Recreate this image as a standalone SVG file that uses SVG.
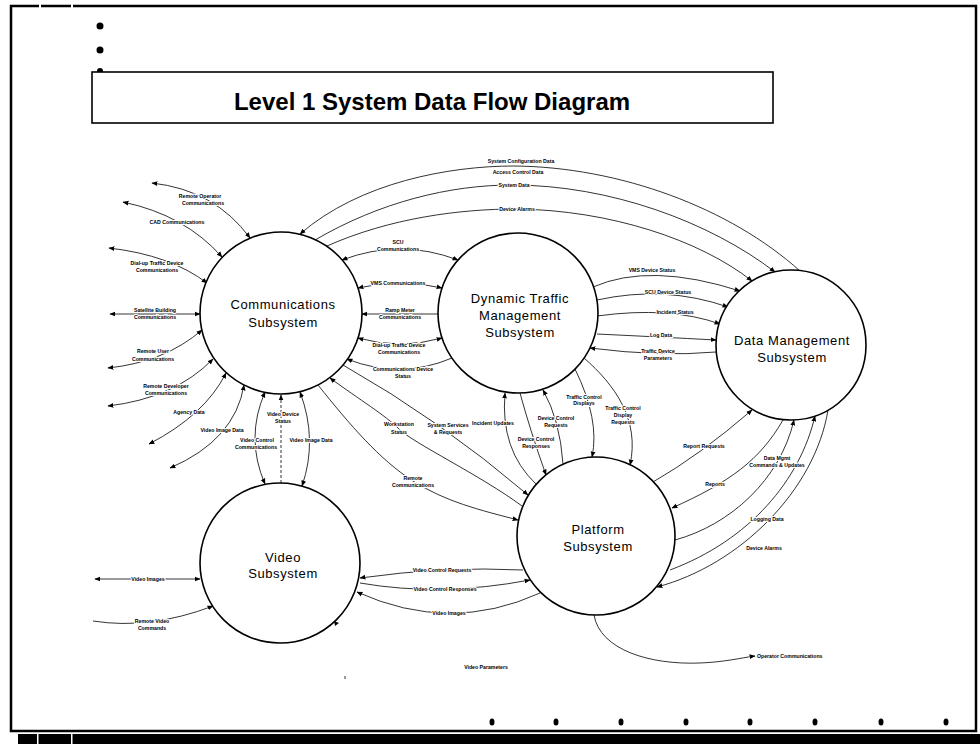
<svg xmlns="http://www.w3.org/2000/svg" width="980" height="744" viewBox="0 0 980 744">
<defs>
<marker id="ah" viewBox="0 0 10 10" refX="9" refY="5" markerWidth="6" markerHeight="6" markerUnits="userSpaceOnUse" orient="auto-start-reverse"><path d="M0,1 L10,5 L0,9 z" fill="#000"/></marker>
</defs>
<style>
.frame{fill:none;stroke:#000;stroke-width:2.5}
.node circle{fill:#fff;stroke:#000;stroke-width:1.6}
.nt{font-family:"Liberation Sans",Arial,sans-serif;font-size:13px;letter-spacing:0.6px;text-anchor:middle;fill:#000}
.c path{fill:none;stroke:#000;stroke-width:0.8}
.c .s{marker-start:url(#ah)}
.c .e{marker-end:url(#ah)}
.c .d{stroke-dasharray:3 2}
.lb{font-family:"Liberation Sans",Arial,sans-serif;font-size:5.2px;font-weight:bold;text-anchor:middle;fill:#000;stroke:#fff;stroke-width:2;paint-order:stroke}
.title{font-family:"Liberation Sans",Arial,sans-serif;font-size:24px;font-weight:bold;text-anchor:middle;fill:#000}
</style>
<rect width="980" height="744" fill="#fff"/>
<!-- page frame -->
<rect class="frame" x="11" y="6" width="965" height="725"/>
<rect x="39" y="4" width="2" height="4" fill="#fff"/>
<rect x="71" y="4" width="2" height="4" fill="#fff"/>
<rect x="18" y="734" width="962" height="10" fill="#000"/>
<rect x="37" y="734" width="1.5" height="10" fill="#fff"/>
<rect x="71" y="734" width="1.5" height="10" fill="#fff"/>
<g fill="#000">
<circle cx="100" cy="26" r="3.5"/>
<circle cx="100" cy="50" r="3.5"/>
<circle cx="100" cy="71" r="3"/>
<ellipse cx="492" cy="722" rx="2.5" ry="3.5"/>
<ellipse cx="556" cy="722" rx="2.5" ry="3.5"/>
<ellipse cx="621" cy="722" rx="2.5" ry="3.5"/>
<ellipse cx="686" cy="722" rx="2.5" ry="3.5"/>
<ellipse cx="750" cy="722" rx="2.5" ry="3.5"/>
<ellipse cx="815" cy="722" rx="2.5" ry="3.5"/>
<ellipse cx="881" cy="722" rx="2.5" ry="3.5"/>
<ellipse cx="946" cy="722" rx="2.5" ry="3.5"/>
</g>
<!-- title -->
<g id="title">
<rect x="92" y="72" width="681" height="51" fill="#fff" stroke="#000" stroke-width="1.6"/>
<text class="title" x="432" y="110">Level 1 System Data Flow Diagram</text>
</g>

<!-- connectors -->
<g id="connectors" class="c">
<!-- top arcs Comm - DM -->
<path class="s" d="M300,234 C360,182 450,166 514,166 C620,167 730,208 800,271"/>
<path class="e" d="M315,240 C380,202 450,185 512,185 C610,185 710,222 775,272"/>
<path class="e" d="M327,246 C390,218 460,209 516,209 C610,210 700,240 752,281"/>
<!-- left of Comm -->
<path class="s e" d="M152,183 Q215,190 250,238"/>
<path class="s e" d="M123,202 Q185,215 222,257"/>
<path class="s e" d="M109,248 Q170,255 207,283"/>
<path class="s e" d="M110,314 L200,314"/>
<path class="s e" d="M108,368 Q165,362 202,330"/>
<path class="s e" d="M108,406 Q175,398 213,359"/>
<path class="s e" d="M149,444 Q205,415 226,373"/>
<path class="s e" d="M170,468 Q235,440 244,385"/>
<!-- Comm - Video -->
<path class="s e" d="M265,392 Q245,438 265,484"/>
<path class="e d" d="M281,483 L281,395"/>
<path class="s e" d="M300,392 Q318,440 302,486"/>
<!-- Comm - Platform -->
<path class="e" d="M318,385 C350,425 380,460 413,481 S480,510 518,520"/>
<path class="s" d="M330,378 C360,400 385,415 399,429 S480,475 522,506"/>
<path class="e" d="M343,365 Q440,420 528,495"/>
<!-- Comm - DTM -->
<path class="s e" d="M342,260 Q400,238 458,260"/>
<path class="s e" d="M358,288 Q400,278 442,288"/>
<path class="e" d="M438,314 L362,314"/>
<path class="s e" d="M358,338 Q400,350 442,338"/>
<path class="e" d="M452,358 Q400,380 347,359"/>
<!-- DTM - DM -->
<path class="e" d="M593,287 Q650,262 740,291"/>
<path class="e" d="M597,300 Q665,285 728,307"/>
<path class="e" d="M597,316 Q670,306 720,324"/>
<path class="e" d="M597,334 Q660,337 716,340"/>
<path class="e" d="M716,352 Q660,357 590,348"/>
<!-- DTM - Platform -->
<path class="e" d="M536,484 Q500,450 505,393"/>
<path class="e" d="M520,393 Q530,430 546,475"/>
<path class="e" d="M563,464 Q560,420 543,390"/>
<path class="e" d="M575,369 Q600,420 592,457"/>
<path class="e" d="M584,358 C615,385 640,420 630,465"/>
<!-- Platform - DM -->
<path class="e" d="M653,482 Q700,455 752,410"/>
<path class="e" d="M783,420 C760,460 730,482 672,508"/>
<path class="e" d="M675,540 C730,525 780,480 794,420"/>
<path class="e" d="M670,570 C750,540 800,480 815,416"/>
<path class="e" d="M828,410 C815,490 740,565 657,587"/>
<!-- Video - Platform -->
<path class="e" d="M523,570 Q445,566 360,578"/>
<path class="e" d="M360,583 Q440,597 530,580"/>
<path class="e" d="M540,593 Q450,634 357,592"/>
<!-- Video left -->
<path class="s e" d="M95,579 L200,579"/>
<path class="e" d="M93,621 Q150,630 213,606"/>
<!-- Operator -->
<path class="e" d="M594,615 C600,650 650,665 700,663 C725,662 740,658 755,656"/>
<!-- stray marks -->
<path d="M345,676 L345,679" stroke="#000" stroke-width="1"/>
<polygon points="334,621 339,623 335,626" fill="#000"/>
</g>

<!-- nodes -->
<g id="comm" class="node">
<circle cx="281" cy="313" r="81"/>
<text class="nt" x="283" y="309">Communications</text>
<text class="nt" x="283" y="327">Subsystem</text>
</g>
<g id="dtm" class="node">
<circle cx="518" cy="313" r="80"/>
<text class="nt" x="520" y="303">Dynamic Traffic</text>
<text class="nt" x="520" y="320">Management</text>
<text class="nt" x="520" y="337">Subsystem</text>
</g>
<g id="dm" class="node">
<circle cx="791" cy="345" r="75"/>
<text class="nt" x="792" y="345">Data Management</text>
<text class="nt" x="792" y="362">Subsystem</text>
</g>
<g id="platform" class="node">
<circle cx="596" cy="536" r="79"/>
<text class="nt" x="598" y="534">Platform</text>
<text class="nt" x="598" y="551">Subsystem</text>
</g>
<g id="video" class="node">
<circle cx="280" cy="563" r="80"/>
<text class="nt" x="283" y="562">Video</text>
<text class="nt" x="283" y="578">Subsystem</text>
</g>

<!-- labels -->
<g id="labels">
<text class="lb" x="521" y="163">System Configuration Data</text>
<text class="lb" x="518" y="174">Access Control Data</text>
<text class="lb" x="514" y="187">System Data</text>
<text class="lb" x="517" y="211">Device Alarms</text>

<text class="lb" x="200" y="198">Remote Operator</text>
<text class="lb" x="203" y="205">Communications</text>
<text class="lb" x="177" y="224">CAD Communications</text>
<text class="lb" x="157" y="265">Dial-up Traffic Device</text>
<text class="lb" x="157" y="272">Communications</text>
<text class="lb" x="155" y="312">Satellite Building</text>
<text class="lb" x="155" y="319">Communications</text>
<text class="lb" x="153" y="353">Remote User</text>
<text class="lb" x="153" y="361">Communications</text>
<text class="lb" x="166" y="388">Remote Developer</text>
<text class="lb" x="166" y="395">Communications</text>
<text class="lb" x="189" y="414">Agency Data</text>
<text class="lb" x="222" y="432">Video Image Data</text>

<text class="lb" x="257" y="442">Video Control</text>
<text class="lb" x="256" y="449">Communications</text>
<text class="lb" x="283" y="416">Video Device</text>
<text class="lb" x="283" y="423">Status</text>
<text class="lb" x="311" y="442">Video Image Data</text>

<text class="lb" x="413" y="480">Remote</text>
<text class="lb" x="413" y="487">Communications</text>
<text class="lb" x="399" y="426">Workstation</text>
<text class="lb" x="399" y="434">Status</text>
<text class="lb" x="448" y="427">System Services</text>
<text class="lb" x="448" y="434">&amp; Requests</text>

<text class="lb" x="398" y="244">SCU</text>
<text class="lb" x="398" y="251">Communications</text>
<text class="lb" x="398" y="285">VMS Communications</text>
<text class="lb" x="400" y="312">Ramp Meter</text>
<text class="lb" x="400" y="319">Communications</text>
<text class="lb" x="399" y="347">Dial-up Traffic Device</text>
<text class="lb" x="399" y="354">Communications</text>
<text class="lb" x="403" y="371">Communications Device</text>
<text class="lb" x="403" y="378">Status</text>

<text class="lb" x="652" y="272">VMS Device Status</text>
<text class="lb" x="668" y="294">SCU Device Status</text>
<text class="lb" x="675" y="314">Incident Status</text>
<text class="lb" x="661" y="337">Log Data</text>
<text class="lb" x="658" y="353">Traffic Device</text>
<text class="lb" x="658" y="360">Parameters</text>

<text class="lb" x="493" y="425">Incident Updates</text>
<text class="lb" x="536" y="441">Device Control</text>
<text class="lb" x="536" y="448">Responses</text>
<text class="lb" x="556" y="420">Device Control</text>
<text class="lb" x="556" y="427">Requests</text>
<text class="lb" x="584" y="399">Traffic Control</text>
<text class="lb" x="584" y="405">Displays</text>
<text class="lb" x="623" y="410">Traffic Control</text>
<text class="lb" x="623" y="417">Display</text>
<text class="lb" x="623" y="424">Requests</text>

<text class="lb" x="704" y="448">Report Requests</text>
<text class="lb" x="715" y="486">Reports</text>
<text class="lb" x="777" y="460">Data Mgmt</text>
<text class="lb" x="777" y="467">Commands &amp; Updates</text>
<text class="lb" x="767" y="521">Logging Data</text>
<text class="lb" x="764" y="550">Device Alarms</text>

<text class="lb" x="442" y="572">Video Control Requests</text>
<text class="lb" x="445" y="591">Video Control Responses</text>
<text class="lb" x="449" y="615">Video Images</text>
<text class="lb" x="148" y="581">Video Images</text>
<text class="lb" x="152" y="623">Remote Video</text>
<text class="lb" x="152" y="630">Commands</text>
<text class="lb" x="486" y="669">Video Parameters</text>
<text class="lb" x="757" y="658" style="text-anchor:start">Operator Communications</text>
</g>
</svg>
